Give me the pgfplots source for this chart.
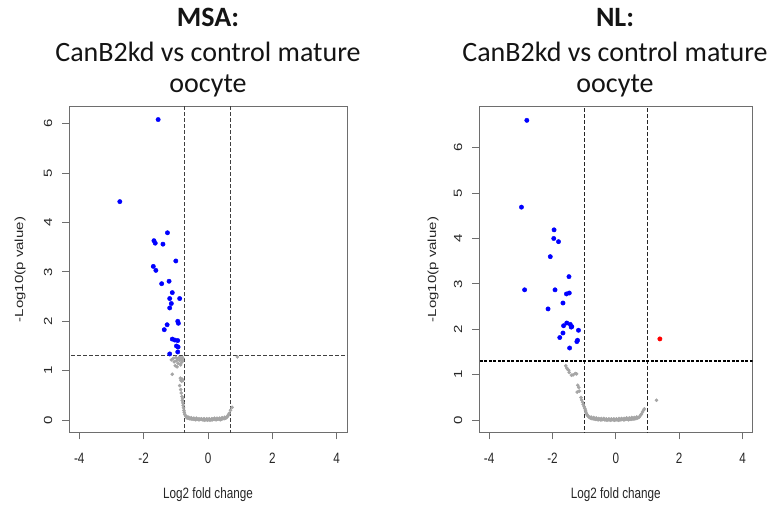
\documentclass[border=0pt]{standalone}
\usepackage{pgfplots}
\pgfplotsset{compat=1.18}
\usepackage{fontspec}
\setmainfont{Liberation Sans}
\newfontfamily\titlefont{Carlito}
\definecolor{axgray}{RGB}{110,110,110}
\definecolor{ptgray}{RGB}{165,165,165}
\newcommand{\xt}[1]{\scalebox{0.78}[1]{#1}}
\newcommand{\yt}[1]{\rotatebox{90}{\scalebox{1}[0.78]{#1}}}
\pgfplotsset{volc/.style={
  scale only axis, height=325.6bp,
  xmin=-4.32, xmax=4.32,
  xtick={-4,-2,0,2,4}, ytick={0,1,2,3,4,5,6},
  axis line style={axgray, line width=0.9bp},
  tick style={axgray, line width=0.9bp},
  tick align=outside, major tick length=7bp,
  xtick pos=bottom, ytick pos=left,
  /pgf/number format/assume math mode=true,
  tick label style={font=\fontsize{15bp}{18bp}\selectfont, text=black!85, inner sep=0pt},
  xticklabel={\xt{\pgfmathprintnumber{\tick}}},
  yticklabel={\yt{\pgfmathprintnumber{\tick}}},
  xticklabel style={anchor=center, yshift=-18.7bp},
  yticklabel style={anchor=center, xshift=-14bp},
  label style={font=\fontsize{15bp}{18bp}\selectfont, text=black!85},
  xlabel={\xt{Log2 fold change}},
  xlabel style={at={(axis description cs:0.5,-0.1926)}, anchor=center},
  ylabel={\scalebox{1}[0.78]{-Log10(p value)}},
  grey pts/.style={only marks, mark=*, mark size=1.6bp, draw=ptgray, fill=ptgray},
  blue pts/.style={only marks, mark=*, mark size=2.2bp, draw=blue, fill=blue},
  red pts/.style={only marks, mark=*, mark size=2.2bp, draw=red, fill=red},
}}
\begin{document}
\begin{tikzpicture}
\useasboundingbox (0,0) rectangle (772bp,507bp);
% ---------------- MSA ----------------
\begin{axis}[volc, at={(69bp,74.7bp)}, anchor=south west, width=278bp,
  ymin=-0.245, ymax=6.34,
  ylabel style={at={(axis description cs:-0.176,0.5)}, anchor=center}]
\addplot[grey pts] coordinates {
(-1.14,1.22) (-1.08,1.25) (-1.05,1.18) (-1.00,1.27) (-0.98,1.20) (-0.95,1.24)
(-0.93,1.15) (-0.90,1.27) (-0.88,1.21) (-0.86,1.26) (-0.85,1.12) (-0.83,1.23)
(-0.82,1.17) (-0.80,1.27) (-0.79,1.20) (-0.78,1.25) (-1.02,1.10) (-0.96,1.08)
(-1.11,0.93)
(-0.86,0.85) (-0.84,0.81) (-0.82,0.79) (-0.80,0.83) (-0.78,0.80)
(-0.88,0.70) (-0.85,0.62) (-0.83,0.55) (-0.81,0.48) (-0.79,0.44)
(-0.80,0.40) (-0.78,0.35) (-0.77,0.30) (-0.76,0.25) (-0.75,0.20) (-0.74,0.16)
(-0.72,0.12) (-0.70,0.09) (-0.68,0.07) (-0.66,0.05) (-0.64,0.06)
(-0.62,0.04) (-0.58,0.03) (-0.54,0.03) (-0.50,0.02) (-0.46,0.02) (-0.42,0.02)
(-0.38,0.01) (-0.34,0.02) (-0.30,0.01) (-0.26,0.01) (-0.22,0.02) (-0.18,0.01)
(-0.14,0.01) (-0.10,0.00) (-0.06,0.01) (-0.02,0.00) (0.02,0.01) (0.06,0.00)
(0.10,0.01) (0.14,0.01) (0.18,0.02) (0.22,0.01) (0.26,0.01) (0.30,0.02)
(0.34,0.02) (0.38,0.01) (0.42,0.02) (0.46,0.03) (0.50,0.03) (0.54,0.04)
(-0.60,0.06) (-0.52,0.05) (-0.44,0.04) (-0.36,0.04) (-0.28,0.03) (-0.20,0.03)
(-0.12,0.03) (-0.04,0.03) (0.04,0.03) (0.12,0.03) (0.20,0.04) (0.28,0.04)
(0.36,0.04) (0.44,0.05) (0.52,0.06)
(0.57,0.05) (0.60,0.07) (0.62,0.09) (0.64,0.11) (0.66,0.14) (0.70,0.20) (0.75,0.26)
(0.91,1.28)
};
\addplot[blue pts] coordinates {
(-1.55,6.08) (-2.74,4.42) (-1.26,3.79) (-1.68,3.63) (-1.64,3.58) (-1.40,3.56)
(-1.00,3.22) (-1.70,3.11) (-1.62,3.03) (-1.21,2.81) (-1.44,2.76) (-1.11,2.58)
(-0.88,2.46) (-1.19,2.46) (-1.14,2.36) (-1.19,2.27) (-1.27,1.93) (-0.94,2.00)
(-0.92,1.96) (-1.36,1.83) (-1.11,1.64) (-1.03,1.62) (-0.94,1.61) (-0.98,1.50)
(-0.93,1.48) (-0.94,1.38) (-1.19,1.34)
};
\addplot[black!75, line width=0.8bp, dash pattern=on 3.5bp off 2.5bp] coordinates {(-0.745,-1) (-0.745,7)};
\addplot[black!75, line width=0.8bp, dash pattern=on 3.5bp off 2.5bp] coordinates {(0.71,-1) (0.71,7)};
\addplot[black!75, line width=0.8bp, dash pattern=on 3.5bp off 2.5bp] coordinates {(-5,1.301) (5,1.301)};
\end{axis}
% ---------------- NL ----------------
\begin{axis}[volc, at={(479bp,74.7bp)}, anchor=south west, width=273.7bp,
  ymin=-0.265, ymax=6.9,
  ylabel style={at={(axis description cs:-0.168,0.5)}, anchor=center}]
\addplot[grey pts] coordinates {
(-1.58,1.20) (-1.55,1.15) (-1.52,1.12) (-1.49,1.10) (-1.47,1.05)
(-1.40,0.99) (-1.35,1.00) (-1.28,1.03) (-1.24,1.02)
(-1.20,0.77) (-1.17,0.72) (-1.15,0.64) (-1.22,0.62)
(-1.10,0.50) (-1.08,0.45) (-1.05,0.40) (-1.03,0.35) (-1.00,0.30) (-0.98,0.26) (-0.96,0.22)
(-0.95,0.18) (-0.93,0.15) (-0.91,0.12) (-0.89,0.10) (-0.86,0.08) (-0.83,0.06)
(-0.80,0.05) (-0.76,0.04) (-0.72,0.03) (-0.68,0.03) (-0.64,0.02) (-0.60,0.02)
(-0.56,0.01) (-0.52,0.02) (-0.48,0.01) (-0.44,0.01) (-0.40,0.02) (-0.36,0.01)
(-0.32,0.01) (-0.28,0.00) (-0.24,0.01) (-0.20,0.01) (-0.16,0.00) (-0.12,0.01)
(-0.08,0.01) (-0.04,0.00) (0.00,0.01) (0.04,0.01) (0.08,0.00) (0.12,0.01)
(0.16,0.01) (0.20,0.02) (0.24,0.01) (0.28,0.01) (0.32,0.02) (0.36,0.02)
(0.40,0.01) (0.44,0.02) (0.48,0.02) (0.52,0.03) (0.56,0.03) (0.60,0.03)
(0.64,0.04) (0.68,0.05)
(-0.78,0.07) (-0.70,0.06) (-0.62,0.05) (-0.54,0.04) (-0.46,0.04) (-0.38,0.04)
(-0.30,0.03) (-0.22,0.03) (-0.14,0.03) (-0.06,0.03) (0.02,0.03) (0.10,0.04)
(0.18,0.04) (0.26,0.04) (0.34,0.05) (0.42,0.05) (0.50,0.06) (0.58,0.06) (0.66,0.07)
(0.72,0.06) (0.75,0.08) (0.78,0.11) (0.81,0.14) (0.84,0.18) (0.87,0.22) (0.90,0.25)
(1.28,0.44)
};
\addplot[blue pts] coordinates {
(-2.81,6.60) (-2.98,4.69) (-1.95,4.19) (-1.96,4.00) (-1.81,3.93) (-2.07,3.60)
(-1.48,3.16) (-2.88,2.87) (-1.92,2.87) (-1.56,2.78) (-1.47,2.80) (-1.67,2.58)
(-2.14,2.45) (-1.55,2.14) (-1.65,2.08) (-1.44,2.11) (-1.41,2.05) (-1.39,2.06)
(-1.18,1.98) (-1.67,1.92) (-1.77,1.82) (-1.21,1.76) (-1.23,1.73) (-1.46,1.59)
};
\addplot[red pts] coordinates {(1.39,1.79)};
\addplot[black!85, line width=0.8bp, dash pattern=on 3.5bp off 2.5bp] coordinates {(-1,-1) (-1,8)};
\addplot[black!85, line width=0.8bp, dash pattern=on 3.5bp off 2.5bp] coordinates {(1,-1) (1,8)};
\addplot[black, line width=1.5bp, dash pattern=on 3bp off 1.5bp] coordinates {(-5,1.301) (5,1.301)};
\end{axis}
% ---------------- titles ----------------
\tikzset{ttl/.style={anchor=base, inner sep=0pt, text=black!92, font=\titlefont\fontsize{28bp}{33bp}\selectfont}}
\node[ttl, font=\titlefont\fontsize{28bp}{33bp}\selectfont\bfseries] at (208bp,480bp) {MSA:};
\node[ttl] at (208bp,445bp) {CanB2kd vs control mature};
\node[ttl] at (208bp,414bp) {oocyte};
\node[ttl, font=\titlefont\fontsize{28bp}{33bp}\selectfont\bfseries] at (615bp,480bp) {NL:};
\node[ttl] at (615bp,445bp) {CanB2kd vs control mature};
\node[ttl] at (615bp,414bp) {oocyte};
\end{tikzpicture}
\end{document}
